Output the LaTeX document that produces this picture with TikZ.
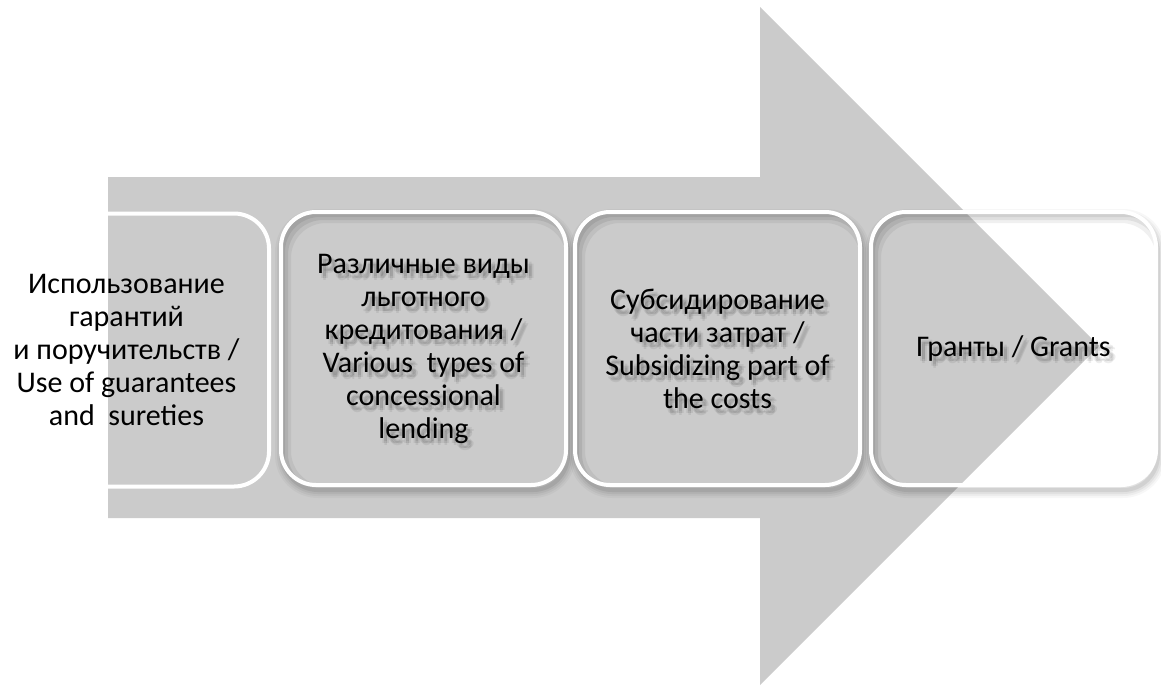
\documentclass[tikz,border=0pt]{standalone}
\usepackage{fontspec}
\setmainfont{Carlito}
\definecolor{arrowgray}{HTML}{CBCBCB}
\tikzset{
  lbl/.style={align=center, font=\fontsize{30}{33}\selectfont, inner sep=0pt, text=black},
  lblshadow/.style={lbl, text opacity=0.07},
  frame/.style={draw=white, line width=4pt, rounded corners=35pt, minimum height=273pt, inner sep=0pt},
}
% #1 left x, #2 right x : drop shadow outside and inner shadow inside
\newcommand\boxshadows[2]{%
  \begin{scope}
    \clip[rounded corners=35pt] (-100,-100) rectangle (1300,800)
      (#2,212) rectangle (#1,485);
    \foreach \w/\o in {16/0.03,12/0.04,8/0.05,4/0.07}
      \draw[black, opacity=\o, line width=\w pt, rounded corners=35pt]
        (#1+2,212+5) rectangle (#2+2,485+5);
  \end{scope}
  \begin{scope}
    \clip[rounded corners=35pt] (#1,212) rectangle (#2,485);
    \foreach \k/\o in {-4/0.07,-1/0.07,2/0.07,5/0.06}
      \fill[black, opacity=\o, even odd rule, rounded corners=35pt] (#1-60,150) rectangle (#2+60,550)
        (#1+5+\k,212+6+\k) rectangle (#2+5-\k,485+6-\k);
  \end{scope}
}
% #1 name, #2 centre, #3 text : soft shadow below right of the text
\newcommand\textshadow[3]{%
  \foreach \dx/\dy [count=\n] in {4/-5,2/-5,6/-5,4/-3,4/-7}
    \node[lblshadow, xshift=\dx pt, yshift=\dy pt] (#1s\n) at (#2) {#3};
}
\begin{document}
\begin{tikzpicture}[x=1pt,y=-1pt]
\useasboundingbox (0,0) rectangle (1161,686);
\clip (0,0) rectangle (1161,686);
% big arrow
\fill[arrowgray] (108,177) -- (760,177) -- (760,7) -- (1099,346) -- (760,685)
  -- (760,518) -- (108,518) -- cycle;

% box 1 (no shadow)
\node[frame, lbl, minimum width=285pt] (b1) at (126.5,350)
  {Использование\\гарантий\\и поручительств /\\Use of guarantees\\and\ \ sureties};

% box 2
\boxshadows{281}{566}
\textshadow{t2}{423.5,348.5}{Различные виды\\льготного\\кредитования /\\Various\ \ types of\\concessional\\lending}
\node[frame, lbl, minimum width=285pt] (b2) at (423.5,348.5)
  {Различные виды\\льготного\\кредитования /\\Various\ \ types of\\concessional\\lending};

% box 3
\boxshadows{575}{860}
\textshadow{t3}{717.5,348.5}{Субсидирование\\части затрат /\\Subsidizing part of\\the costs}
\node[frame, lbl, minimum width=285pt] (b3) at (717.5,348.5)
  {Субсидирование\\части затрат /\\Subsidizing part of\\the costs};

% box 4
\boxshadows{871}{1156}
\textshadow{t4}{1013.5,348.5}{Гранты / Grants}
\node[frame, lbl, minimum width=285pt] (b4) at (1013.5,348.5) {Гранты / Grants};
\end{tikzpicture}
\end{document}
